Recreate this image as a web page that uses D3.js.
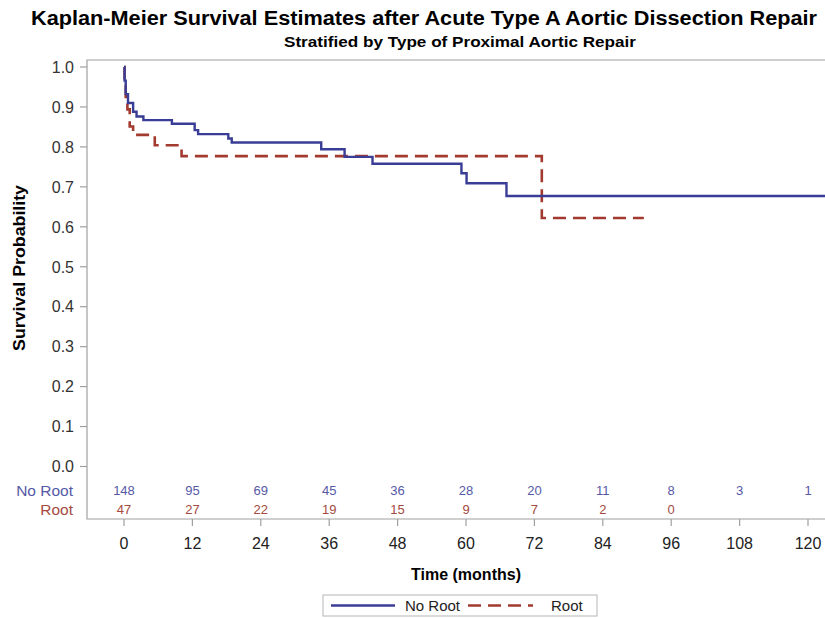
<!DOCTYPE html>
<html>
<head>
<script src="https://d3js.org/d3.v7.min.js"></script>
<style>
    body { margin: 0; background: #fff; }
    text { font-family: "Liberation Sans", Arial, sans-serif; }
    .frame { fill: none; stroke: #a0a0a0; stroke-width: 1.2px; }
    .tick-line { stroke: #a0a0a0; stroke-width: 1.2px; }
</style>
</head>
<body>
<svg id="km" width="825" height="618"></svg>
<script>
    // tick values
    const monthTicks = [0, 12, 24, 36, 48, 60, 72, 84, 96, 108, 120];
    const probTicks = [0, 0.1, 0.2, 0.3, 0.4, 0.5, 0.6, 0.7, 0.8, 0.9, 1.0];

    // No Root curve
    const noRootTime = [0, 0.1, 0.3, 0.7, 1.6, 2.2, 3.4, 8.4, 12.4, 13, 18.3, 18.9, 34.6, 38.7, 43.6, 59.2, 60.1, 67.1, 124];
    const noRootSurv = [1.0, 0.966, 0.932, 0.91, 0.888, 0.876, 0.867, 0.858, 0.842, 0.832, 0.821, 0.811, 0.794, 0.775, 0.758, 0.734, 0.709, 0.677, 0.677];

    // Root curve
    const rootTime = [0, 0.1, 0.3, 0.6, 1.0, 1.6, 5.4, 10.1, 73.3, 91.2];
    const rootSurv = [1.0, 0.957, 0.915, 0.894, 0.851, 0.830, 0.804, 0.777, 0.622, 0.622];

    // number at risk
    const noRootAtRisk = [148, 95, 69, 45, 36, 28, 20, 11, 8, 3, 1];
    const rootAtRisk = [47, 27, 22, 19, 15, 9, 7, 2, 0];

    const blue = '#3a3d96';
    const red = '#a33a2f';
    const blueText = '#5659a6';
    const redText = '#a44a40';

    const svg = d3.select('#km');

    const frame = { left: 87, top: 60, right: 830, bottom: 519 };

    const x = d3.scaleLinear().domain([0, 120]).range([124, 808]);
    const y = d3.scaleLinear().domain([0, 1]).range([466.5, 67]);

    // titles
    svg.append('text')
        .attr('x', 424).attr('y', 25)
        .attr('text-anchor', 'middle')
        .attr('textLength', 786).attr('lengthAdjust', 'spacingAndGlyphs')
        .style('font-size', '20px').style('font-weight', 'bold')
        .text('Kaplan-Meier Survival Estimates after Acute Type A Aortic Dissection Repair');

    svg.append('text')
        .attr('x', 460).attr('y', 47)
        .attr('text-anchor', 'middle')
        .attr('textLength', 352).attr('lengthAdjust', 'spacingAndGlyphs')
        .style('font-size', '14.5px').style('font-weight', 'bold')
        .text('Stratified by Type of Proximal Aortic Repair');

    // frame
    svg.append('path')
        .attr('class', 'frame')
        .attr('d', `M${frame.right},${frame.top}H${frame.left}V${frame.bottom}H${frame.right}`);

    // clip for curves
    svg.append('clipPath').attr('id', 'plot-clip')
        .append('rect')
        .attr('x', frame.left).attr('y', frame.top)
        .attr('width', frame.right - frame.left).attr('height', frame.bottom - frame.top);

    // y axis ticks + labels
    const yTicks = svg.append('g');
    yTicks.selectAll('line')
        .data(probTicks)
        .join('line')
        .attr('class', 'tick-line')
        .attr('x1', frame.left - 7).attr('x2', frame.left)
        .attr('y1', d => y(d)).attr('y2', d => y(d));
    yTicks.selectAll('text')
        .data(probTicks)
        .join('text')
        .attr('x', frame.left - 13)
        .attr('y', d => y(d))
        .attr('dy', '0.36em')
        .attr('text-anchor', 'end')
        .style('font-size', '16px')
        .attr('fill', '#333')
        .text(d => d3.format('.1f')(d));

    // x axis ticks + labels
    const xTicks = svg.append('g');
    xTicks.selectAll('line')
        .data(monthTicks)
        .join('line')
        .attr('class', 'tick-line')
        .attr('x1', d => x(d)).attr('x2', d => x(d))
        .attr('y1', frame.bottom).attr('y2', frame.bottom + 7);
    xTicks.selectAll('text')
        .data(monthTicks)
        .join('text')
        .attr('x', d => x(d))
        .attr('y', frame.bottom + 30)
        .attr('text-anchor', 'middle')
        .style('font-size', '16px')
        .attr('fill', '#222')
        .text(d => d);

    // axis titles
    svg.append('text')
        .attr('transform', 'translate(25, 268) rotate(-90)')
        .attr('text-anchor', 'middle')
        .attr('textLength', 166).attr('lengthAdjust', 'spacingAndGlyphs')
        .style('font-size', '16px').style('font-weight', 'bold')
        .text('Survival Probability');

    svg.append('text')
        .attr('x', 466).attr('y', 580)
        .attr('text-anchor', 'middle')
        .style('font-size', '16px').style('font-weight', 'bold')
        .text('Time (months)');

    // curves
    const line = d3.line()
        .x(d => x(d[0]))
        .y(d => y(d[1]))
        .curve(d3.curveStepAfter);

    const curves = svg.append('g').attr('clip-path', 'url(#plot-clip)');

    curves.append('path')
        .datum(rootTime.map((t, i) => [t, rootSurv[i]]))
        .attr('fill', 'none')
        .attr('stroke', red)
        .attr('stroke-width', 2.6)
        .attr('stroke-dasharray', '13,7')
        .attr('d', line);

    curves.append('path')
        .datum(noRootTime.map((t, i) => [t, noRootSurv[i]]))
        .attr('fill', 'none')
        .attr('stroke', blue)
        .attr('stroke-width', 2.4)
        .attr('d', line);

    // number at risk table
    svg.append('text')
        .attr('x', 73).attr('y', 490).attr('dy', '0.36em')
        .attr('text-anchor', 'end')
        .style('font-size', '15.5px')
        .attr('fill', blueText)
        .text('No Root');
    svg.append('text')
        .attr('x', 73).attr('y', 509).attr('dy', '0.36em')
        .attr('text-anchor', 'end')
        .style('font-size', '15.5px')
        .attr('fill', redText)
        .text('Root');

    svg.append('g').selectAll('text')
        .data(noRootAtRisk)
        .join('text')
        .attr('x', (d, i) => x(monthTicks[i]))
        .attr('y', 490).attr('dy', '0.36em')
        .attr('text-anchor', 'middle')
        .style('font-size', '13px')
        .attr('fill', blueText)
        .text(d => d);

    svg.append('g').selectAll('text')
        .data(rootAtRisk)
        .join('text')
        .attr('x', (d, i) => x(monthTicks[i]))
        .attr('y', 509).attr('dy', '0.36em')
        .attr('text-anchor', 'middle')
        .style('font-size', '13px')
        .attr('fill', redText)
        .text(d => d);

    // legend
    const legend = svg.append('g');
    legend.append('rect')
        .attr('x', 323).attr('y', 595)
        .attr('width', 274).attr('height', 21)
        .attr('fill', '#fff')
        .attr('stroke', '#b5b5b5');
    legend.append('line')
        .attr('x1', 331).attr('x2', 395).attr('y1', 605.5).attr('y2', 605.5)
        .attr('stroke', blue).attr('stroke-width', 2.4);
    legend.append('text')
        .attr('x', 405).attr('y', 605.5).attr('dy', '0.36em')
        .style('font-size', '15px').attr('fill', '#222')
        .text('No Root');
    legend.append('line')
        .attr('x1', 468).attr('x2', 533).attr('y1', 605.5).attr('y2', 605.5)
        .attr('stroke', red).attr('stroke-width', 2.6)
        .attr('stroke-dasharray', '13,7');
    legend.append('text')
        .attr('x', 551).attr('y', 605.5).attr('dy', '0.36em')
        .style('font-size', '15px').attr('fill', '#222')
        .text('Root');
</script>
</body>
</html>
